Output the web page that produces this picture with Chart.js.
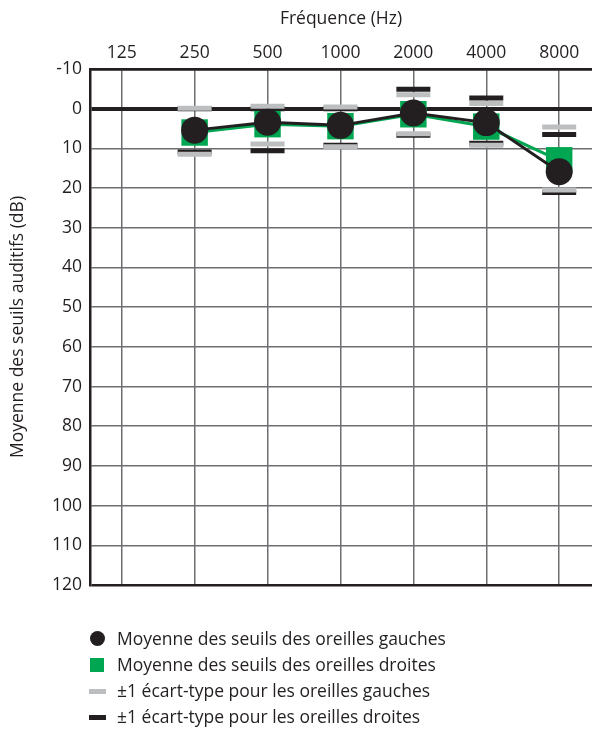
<!DOCTYPE html>
<html lang="fr">
<head>
<meta charset="utf-8">
<title>Audiogramme</title>
<script src="https://cdn.jsdelivr.net/npm/chart.js@4/dist/chart.umd.min.js"></script>
<style>
  html, body { margin: 0; padding: 0; background: #fff; overflow: hidden; }
  #wrap { position: relative; width: 592px; height: 729px; overflow: hidden; }
  #chart { position: absolute; left: 0; top: 0; }
  .legend-row {
    position: absolute; left: 0; height: 26px; width: 592px;
    font-family: "Open Sans", sans-serif; font-size: 17.5px; color: #231f20;
    line-height: 26px; white-space: nowrap;
  }
  .legend-row .mk { position: absolute; }
  .legend-row .tx { position: absolute; left: 117px; top: -1px; }
</style>
</head>
<body>
<div id="wrap">
  <canvas id="chart" width="592" height="729"></canvas>
  <div id="legend"></div>
</div>
<script>
// Frequencies (Hz) along the top axis
const frequencies = ['125', '250', '500', '1000', '2000', '4000', '8000'];

// Mean hearing thresholds (dB HL); no measurement at 125 Hz
const leftMean  = [null, 5.4, 3.4, 4.2, 1.1, 3.5, 15.9];
const rightMean = [null, 6.0, 3.9, 4.4, 1.4, 4.5, 13.0];

// ±1 standard deviation limits
const leftSdLow   = [null, -0.1, -0.6, -0.4, -3.5, -1.3, 4.6];
const leftSdHigh  = [null, 11.5, 8.9, 9.6, 6.3, 9.2, 20.5];
const rightSdLow  = [null, 0.0, 0.0, 0.0, -4.9, -2.7, 6.5];
const rightSdHigh = [null, 10.9, 10.6, 9.2, 6.7, 8.7, 21.1];

// Threshold axis range (dB)
const dbMin = -10;
const dbMax = 120;
const dbStep = 10;

const legendLabels = [
  'Moyenne des seuils des oreilles gauches',
  'Moyenne des seuils des oreilles droites',
  '\u00B11 \u00E9cart-type pour les oreilles gauches',
  '\u00B11 \u00E9cart-type pour les oreilles droites'
];

const INK = '#231f20';
const GREEN = '#00a651';
const LIGHT = '#bcbec0';
const GRID = '#6d6e71';
const FONT = { family: "'Open Sans', sans-serif", size: 17.5 };

// The plot frame runs off the right edge of the page
const PAGE_W = 592;
const PAGE_H = 729;

function toPoints(values) {
  return values.map((y, i) => (y === null ? null : { x: i, y })).filter(Boolean);
}

const datasets = [
  {
    label: legendLabels[0],
    data: toPoints(leftMean),
    showLine: true,
    borderColor: INK,
    borderWidth: 3,
    pointStyle: 'circle',
    pointRadius: 13.5,
    pointBackgroundColor: INK,
    pointBorderWidth: 0,
    order: 0
  },
  {
    label: legendLabels[1],
    data: toPoints(rightMean),
    showLine: true,
    borderColor: GREEN,
    borderWidth: 3,
    pointStyle: 'rect',
    pointRadius: 18.7,
    pointBackgroundColor: GREEN,
    pointBorderWidth: 0,
    order: 1
  },
  {
    label: legendLabels[2],
    data: toPoints(leftSdLow).concat(toPoints(leftSdHigh)),
    showLine: false,
    pointStyle: 'line',
    pointRadius: 17,
    pointBorderWidth: 5,
    pointBorderColor: LIGHT,
    order: 2
  },
  {
    label: legendLabels[3],
    data: toPoints(rightSdLow).concat(toPoints(rightSdHigh)),
    showLine: false,
    pointStyle: 'line',
    pointRadius: 17,
    pointBorderWidth: 5,
    pointBorderColor: INK,
    order: 3
  }
];

const chart = new Chart(document.getElementById('chart'), {
  type: 'scatter',
  data: { datasets },
  options: {
    responsive: false,
    maintainAspectRatio: false,
    animation: false,
    events: [],
    layout: { padding: { left: 0, right: 0, top: 0, bottom: 144 } },
    plugins: { legend: { display: false }, tooltip: { enabled: false } },
    scales: {
      x: {
        type: 'linear',
        position: 'top',
        min: -0.435,
        max: 6.45,
        afterBuildTicks: (scale) => {
          scale.ticks = frequencies.map((_, i) => ({ value: i }));
        },
        afterFit: (scale) => { scale.height = 69; },
        ticks: {
          callback: (value) => frequencies[Math.round(value)],
          font: FONT,
          color: INK,
          padding: 5,
          maxRotation: 0,
          autoSkip: false
        },
        grid: { color: GRID, lineWidth: 1.5, drawTicks: false },
        border: { color: INK, width: 2.5 },
        title: {
          display: true,
          text: 'Fréquence (Hz)',
          font: FONT,
          color: INK,
          padding: { top: 8.5, bottom: 0 }
        }
      },
      y: {
        type: 'linear',
        reverse: true,
        min: dbMin,
        max: dbMax,
        afterFit: (scale) => { scale.width = 90; },
        ticks: { stepSize: dbStep, font: FONT, color: INK, padding: 8 },
        grid: {
          drawTicks: false,
          color: (ctx) => {
            const v = ctx.tick ? ctx.tick.value : null;
            return (v === 0 || v === dbMin || v === dbMax) ? INK : GRID;
          },
          lineWidth: (ctx) => {
            const v = ctx.tick ? ctx.tick.value : null;
            if (v === 0) return 4;
            if (v === dbMin || v === dbMax) return 2.5;
            return 1.5;
          }
        },
        border: { color: INK, width: 2.5 },
        title: {
          display: true,
          text: 'Moyenne des seuils auditifs (dB)',
          font: FONT,
          color: INK,
          padding: { top: 7.5, bottom: 0 }
        }
      }
    }
  }
});

// Widen the canvas until the plot frame reaches the page's right edge
let canvasW = PAGE_W;
for (let pass = 0; pass < 4; pass++) {
  const dr = PAGE_W - chart.chartArea.right;
  if (Math.abs(dr) < 0.5) break;
  canvasW += dr;
  chart.resize(canvasW, PAGE_H);
}

// Legend below the plot
const legendMarks = [
  'left:90px;top:5px;width:15px;height:15px;border-radius:50%;background:' + INK,
  'left:90px;top:6px;width:14px;height:14px;background:' + GREEN,
  'left:89px;top:10.5px;width:17px;height:5px;background:' + LIGHT,
  'left:89px;top:10.5px;width:17px;height:5px;background:' + INK
];
const legendTops = [626, 652, 678, 704];
const legendEl = document.getElementById('legend');
legendLabels.forEach((text, i) => {
  const row = document.createElement('div');
  row.className = 'legend-row';
  row.style.top = legendTops[i] + 'px';
  const mk = document.createElement('span');
  mk.className = 'mk';
  mk.style.cssText = legendMarks[i];
  const tx = document.createElement('span');
  tx.className = 'tx';
  tx.textContent = text;
  row.appendChild(mk);
  row.appendChild(tx);
  legendEl.appendChild(row);
});
</script>
</body>
</html>
